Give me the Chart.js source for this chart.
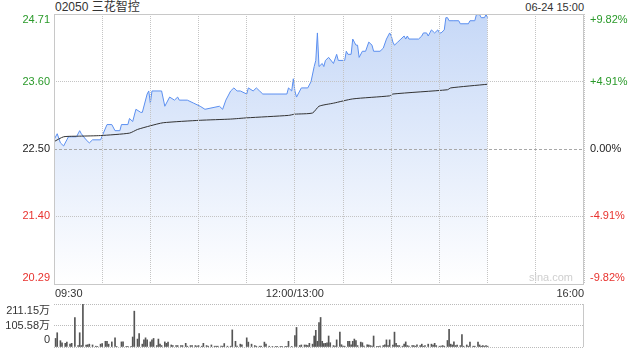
<!DOCTYPE html>
<html>
<head>
<meta charset="utf-8">
<script src="https://cdn.jsdelivr.net/npm/chart.js@4/dist/chart.umd.min.js"></script>
<style>
body { margin: 0; background: #fff; width: 640px; height: 360px; overflow: hidden; position: relative; font-family: "Liberation Sans", Arial, "Noto Sans CJK SC", sans-serif; color: #333; }
#title { position: absolute; left: 55px; top: 0px; font-size: 12px; line-height: 14px; }
#stamp { position: absolute; right: 56px; top: 0px; font-size: 11px; line-height: 14px; }
canvas { position: absolute; left: 0; }
#price { top: 0; }
#vol { top: 300px; }
</style>
</head>
<body>
<div id="title">02050 三花智控</div>
<div id="stamp">06-24 15:00</div>
<canvas id="price" width="640" height="300"></canvas>
<canvas id="vol" width="640" height="60"></canvas>
<script>
// 分时数据 (分钟从 09:30 起算, 午休合并)
const priceMin = [0,2,4,6,8,9,14,16,17,20,22,24,29,33,36,38,41,42,46,47,49,51,54,55,58,59,60,61,67,69,72,75,77,78,83,87,91,94,103,105,107,110,112,114,116,120,121,124,126,128,130,145,146,148,149,150,151,152,154,158,160,162,163,164,165,167,168,169,171,174,176,177,181,182,183,185,186,187,188,189,190,192,194,196,198,199,203,205,207,209,210,211,212,214,216,218,219,220,221,227,229,230,232,233,234,235,237,239,240,241,243,244,245,246,249,252,253,258,259,262,263,265,266,268,269,270];
const price = [22.65,22.75,22.60,22.55,22.65,22.70,22.70,22.80,22.75,22.65,22.60,22.65,22.65,22.90,22.90,22.80,22.80,22.90,22.90,23.00,22.95,23.15,23.10,23.10,23.40,23.45,23.25,23.45,23.45,23.20,23.35,23.30,23.35,23.30,23.30,23.25,23.20,23.15,23.20,23.15,23.30,23.45,23.50,23.45,23.45,23.40,23.50,23.45,23.50,23.45,23.40,23.40,23.50,23.45,23.65,23.45,23.35,23.40,23.50,23.50,23.60,23.85,23.95,24.40,23.85,23.90,23.85,23.95,24.00,23.90,24.05,23.95,23.95,24.10,24.05,24.05,24.30,24.25,24.20,24.20,24.00,24.10,24.10,24.25,24.20,24.10,24.10,24.15,24.30,24.40,24.35,24.25,24.20,24.25,24.30,24.35,24.30,24.35,24.30,24.30,24.35,24.40,24.40,24.35,24.40,24.45,24.40,24.45,24.40,24.40,24.45,24.65,24.65,24.60,24.60,24.60,24.55,24.55,24.60,24.60,24.70,24.70,24.65,24.65,24.70,24.65];

// 均价线
const avgMin = [0,6,16,29,47,52,60,68,91,110,120,146,150,161,165,174,186,209,211,245,247,270];
const avgPrice = [22.62,22.70,22.71,22.72,22.76,22.82,22.88,22.93,22.97,22.99,23.01,23.05,23.07,23.09,23.20,23.25,23.32,23.37,23.40,23.47,23.50,23.56];

// 成交量 (万)
const volMin = [1,2,4,5,7,8,10,11,13,15,16,17,18,20,21,22,24,26,27,29,30,32,33,34,36,38,39,42,43,45,46,48,49,50,52,53,55,56,57,58,60,61,62,64,65,66,67,69,70,71,73,74,76,77,79,80,82,83,85,86,88,89,90,92,93,95,96,98,100,101,102,104,105,106,108,110,111,113,114,116,117,120,121,123,125,126,128,129,131,132,134,
  136,138,139,141,142,144,145,146,148,150,151,153,154,156,157,158,159,161,162,163,164,165,166,167,168,169,170,171,172,174,175,176,178,179,180,181,183,184,185,186,187,188,189,191,192,193,195,196,197,198,199,201,202,203,205,206,207,208,209,211,212,213,214,215,217,218,219,220,221,223,224,225,226,228,229,230,231,233,235,236,237,238,240,241,242,243,245,246,247,248,249,250,251,253,254,255,257,258,259,261,262,264,265,266,267,268,269,270];
const vol = [42,70,31,21,18,24,14,18,144,7,70,7,211.15,10,11,14,10,4,3,14,17,28,28,14,25,45,3,25,25,3,3,3,49,176,39,66,14,35,45,35,25,35,42,7,39,14,7,25,18,24,10,7,7,7,7,7,18,4,7,7,7,4,7,4,18,7,4,10,4,4,4,4,4,17,4,4,84,28,4,14,11,45,24,14,7,4,4,4,24,14,4,
  3,3,3,3,3,3,3,28,3,56,96,7,10,10,10,7,18,14,54,82,28,120,145,28,17,18,21,54,21,7,4,35,73,11,4,4,28,28,11,28,39,32,7,24,21,4,11,10,7,4,54,3,3,4,7,11,35,7,35,10,73,18,7,7,4,14,25,7,4,7,7,4,11,7,14,4,7,14,14,10,18,7,4,4,7,4,32,87,14,10,25,7,10,7,61,4,10,4,24,4,4,24,10,4,7,4,7,4];

// 坐标轴刻度
const yTicks = [24.71, 23.60, 22.50, 21.40, 20.29];
const yLabels = ['24.71', '23.60', '22.50', '21.40', '20.29'];
const pctLabels = ['+9.82%', '+4.91%', '0.00%', '-4.91%', '-9.82%'];
const tickColors = ['#2a9a2a', '#2a9a2a', '#222', '#e8322e', '#e8322e'];
const timeMin = [0, 150, 330];
const timeLabels = ['09:30', '12:00/13:00', '16:00'];
const volTicks = [211.15, 105.58, 0];
const volLabels = ['211.15万', '105.58万', '0'];

const FONT = '11px "Liberation Sans", Arial, "Noto Sans CJK SC", sans-serif';

// 左右刻度文字 + 边框
const sideLabels = {
    id: 'sideLabels',
    afterDraw(chart, args, opts) {
        const { ctx, chartArea: a, scales } = chart;
        ctx.save();
        if (opts.frame) {
            ctx.strokeStyle = '#c8c8c8';
            ctx.lineWidth = 1;
            ctx.strokeRect(a.left + 0.5, a.top + 0.5, a.right - a.left - 1, a.bottom - a.top);
        }
        if (opts.rightBorder) {
            ctx.strokeStyle = '#c8c8c8';
            ctx.beginPath();
            ctx.moveTo(a.right - 0.5, a.top);
            ctx.lineTo(a.right - 0.5, a.bottom);
            ctx.stroke();
        }
        ctx.font = FONT;
        ctx.textBaseline = 'middle';
        opts.values.forEach((v, i) => {
            let py = scales.y.getPixelForValue(v);
            py = Math.min(Math.max(py, a.top + opts.inset), a.bottom - opts.inset);
            ctx.fillStyle = opts.colors[i];
            ctx.textAlign = 'right';
            ctx.fillText(opts.left[i], a.left - 4, py);
            if (opts.right) {
                ctx.textAlign = 'left';
                ctx.fillText(opts.right[i], a.right + 6, py);
            }
        });
        if (opts.times) {
            ctx.fillStyle = '#333';
            ctx.textBaseline = 'top';
            opts.times.forEach((m, i) => {
                ctx.textAlign = i === 0 ? 'left' : (i === opts.times.length - 1 ? 'right' : 'center');
                ctx.fillText(timeLabels[i], scales.x.getPixelForValue(m) + (i === 0 ? 1 : 0), a.bottom + 4);
            });
            ctx.fillStyle = '#cfcfcf';
            ctx.textAlign = 'right';
            ctx.textBaseline = 'middle';
            ctx.fillText('sina.com', a.right - 11, a.bottom - 6);
        }
        ctx.restore();
    }
};

const dotted = (zero) => (c) => (c.tick && c.tick.value === zero ? [3, 2] : [1, 1]);

new Chart(document.getElementById('price'), {
    type: 'line',
    data: {
        datasets: [{
            data: priceMin.map((m, i) => ({ x: m, y: price[i] })),
            borderColor: '#5b8ff0',
            borderWidth: 1,
            pointRadius: 0,
            tension: 0,
            fill: 'start',
            order: 2,
            backgroundColor: (c) => {
                const a = c.chart.chartArea;
                if (!a) return 'rgba(200,218,247,0.6)';
                const g = c.chart.ctx.createLinearGradient(0, a.top, 0, a.bottom);
                g.addColorStop(0, 'rgb(198,216,247)');
                g.addColorStop(1, 'rgb(255,255,255)');
                return g;
            }
        }, {
            data: avgMin.map((m, i) => ({ x: m, y: avgPrice[i] })),
            borderColor: '#333',
            borderWidth: 1,
            pointRadius: 0,
            tension: 0.2,
            fill: false,
            order: 1
        }]
    },
    options: {
        responsive: false,
        animation: false,
        devicePixelRatio: 1,
        layout: { padding: { left: 54, right: 56, top: 14, bottom: 16 } },
        plugins: {
            legend: { display: false },
            tooltip: { enabled: false },
            sideLabels: { values: yTicks, left: yLabels, right: pctLabels, colors: tickColors, inset: 6, frame: true, times: timeMin }
        },
        scales: {
            x: {
                type: 'linear', min: 0, max: 330,
                ticks: { display: false, stepSize: 30 },
                grid: { drawTicks: false, color: '#c4c4c4', z: 1 },
                border: { display: false, dash: [1, 1] }
            },
            y: {
                min: 20.29, max: 24.71,
                afterBuildTicks: (s) => { s.ticks = yTicks.map(v => ({ value: v })); },
                ticks: { display: false },
                grid: { drawTicks: false, z: 1, color: (c) => (c.tick && c.tick.value === 22.5 ? '#a8a8a8' : '#c4c4c4') },
                border: { display: false, dash: dotted(22.5) }
            }
        }
    },
    plugins: [sideLabels]
});

new Chart(document.getElementById('vol'), {
    type: 'bar',
    data: {
        datasets: [{
            data: volMin.map((m, i) => ({ x: m, y: vol[i] })),
            backgroundColor: '#555',
            barThickness: 1
        }]
    },
    options: {
        responsive: false,
        animation: false,
        devicePixelRatio: 1,
        layout: { padding: { left: 54, right: 56, top: 4, bottom: 5 } },
        plugins: {
            legend: { display: false },
            tooltip: { enabled: false },
            sideLabels: { values: volTicks, left: volLabels, colors: ['#333', '#333', '#333'], inset: 7, rightBorder: true }
        },
        scales: {
            x: {
                type: 'linear', min: 0, max: 330, offset: false,
                ticks: { display: false },
                grid: { display: false },
                border: { display: false }
            },
            y: {
                min: 0, max: 211.15,
                afterBuildTicks: (s) => { s.ticks = volTicks.map(v => ({ value: v })); },
                ticks: { display: false },
                grid: { drawTicks: false, color: '#bbbbbb' },
                border: { display: false, dash: [1, 1] }
            }
        }
    },
    plugins: [sideLabels]
});
</script>
</body>
</html>
